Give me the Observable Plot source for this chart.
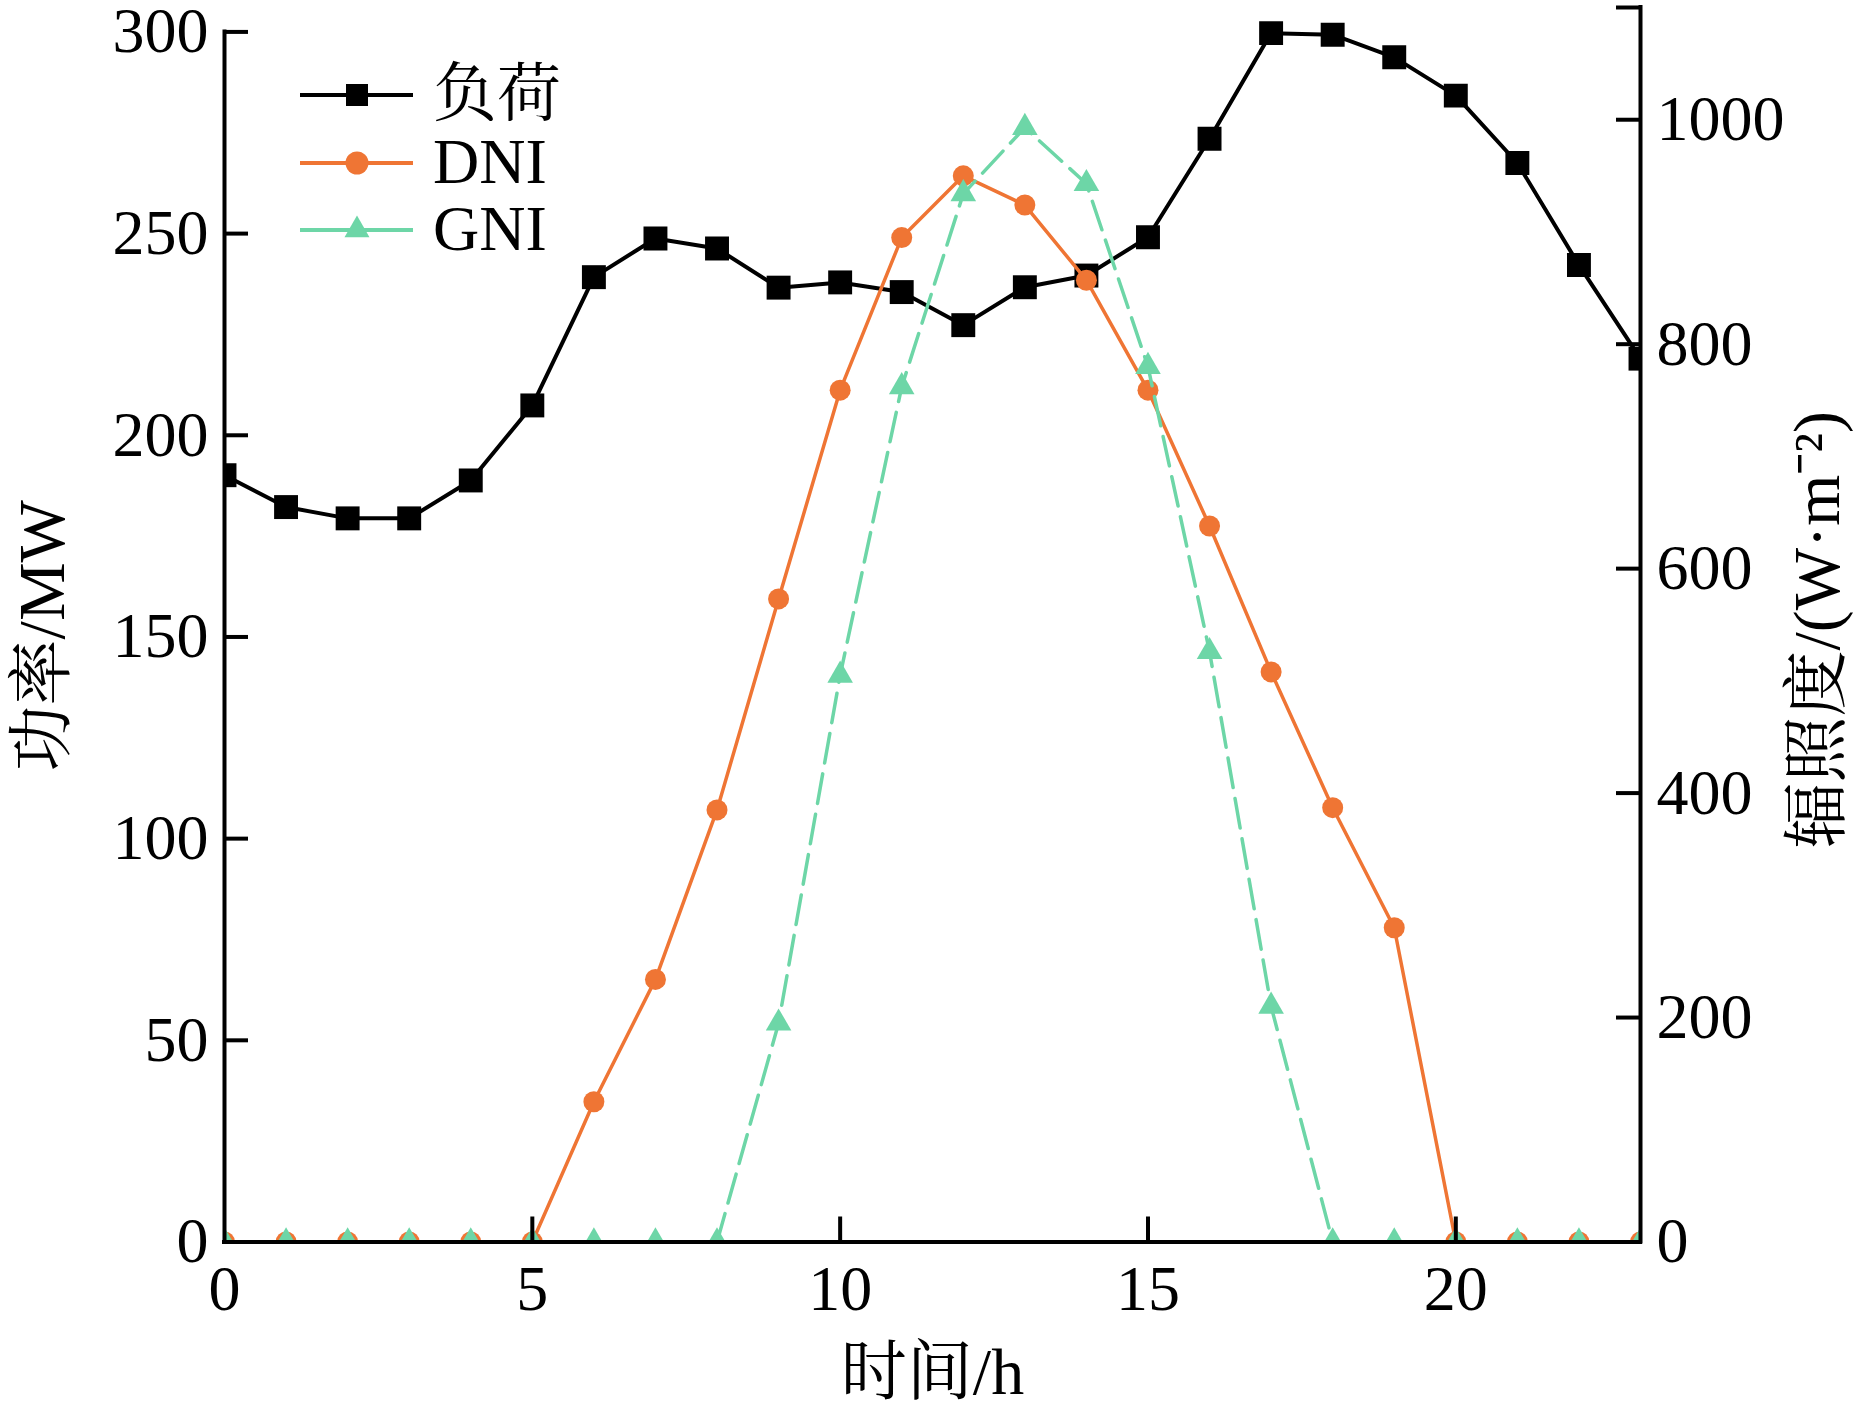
<!DOCTYPE html>
<html>
<head>
<meta charset="utf-8">
<script src="https://cdn.jsdelivr.net/npm/d3@7"></script>
<script src="https://cdn.jsdelivr.net/npm/@observablehq/plot@0.6"></script>
<style>
html, body { margin: 0; padding: 0; background: #fff; }
#wrap { position: relative; width: 1862px; height: 1417px; }
#legend { position: absolute; left: 0; top: 0; pointer-events: none; }
</style>
</head>
<body>
<div id="wrap"></div>
<script>
// ---- data ----
const hours = [0,1,2,3,4,5,6,7,8,9,10,11,12,13,14,15,16,17,18,19,20,21,22,23];
const load = [190.1,182.2,179.4,179.4,188.8,207.4,239.2,248.8,246.3,236.6,237.9,235.5,227.3,236.7,239.6,249.1,273.5,299.7,299.3,293.7,284.2,267.5,242.2,219.0];
const dni  = [0,0,0,0,0,0,125,234,385,573,759,895,950,924,857,759,638,508,387,280,0,0,0,0];
const gni  = [0,0,0,0,0,0,0,0,0,195,505,762,934,993,943,780,526,210,0,0,0,0,0,0];
const seriesNames = ["负荷", "DNI", "GNI"];
const xTicks = [0,5,10,15,20];
const leftTicks = [0,50,100,150,200,250,300];
const rightTicks = [0,200,400,600,800,1000];
const rightAxisMax = 1100;
const xTitle = "时间/h";
const yLeftTitle = "功率/MW";
const yRightTitle = "辐照度/(W·m⁻²)";

// ---- layout & style ----
const W = 1862, H = 1417;
const mL = 224, mR = W - 1640, mT = 7, mB = H - 1241.5;
const plotW = W - mL - mR, plotH = H - mT - mB;
const R = 0.27823; // MW-equivalent of 1 W/m² on the shared vertical
const FONT = '"Liberation Serif", "Times New Roman", "Noto Serif CJK SC", "Noto Sans CJK SC", serif';
const colLoad = "#000000", colDNI = "#ef7534", colGNI = "#6dd6a7";

const loadRows = hours.map((h, i) => ({h, v: load[i]}));
const dniRows = hours.map((h, i) => ({h, v: dni[i] * R}));
const gniRows = hours.map((h, i) => ({h, v: gni[i] * R}));

const chart = Plot.plot({
  width: W, height: H,
  marginLeft: mL, marginRight: mR, marginTop: mT, marginBottom: mB,
  x: {domain: [0, 23]},
  y: {domain: [0, rightAxisMax * R]},
  style: {fontFamily: FONT, fontSize: "64px", color: "#000", background: "#fff", overflow: "visible"},
  marks: [
    Plot.line(loadRows, {x: "h", y: "v", stroke: colLoad, strokeWidth: 4, clip: true}),
    Plot.dot(loadRows, {x: "h", y: "v", symbol: "square", r: 13.5, fill: colLoad, clip: true}),
    Plot.line(dniRows, {x: "h", y: "v", stroke: colDNI, strokeWidth: 3.5, clip: true}),
    Plot.dot(dniRows, {x: "h", y: "v", symbol: "circle", r: 10.5, fill: colDNI, clip: true}),
    Plot.line(gniRows, {x: "h", y: "v", stroke: colGNI, strokeWidth: 3.5, strokeDasharray: "30,11", clip: true}),
    Plot.dot(gniRows, {x: "h", y: "v", symbol: "triangle", r: 9.5, fill: colGNI, clip: true}),
    // axis lines
    Plot.ruleX([0], {y1: 0, y2: 300, stroke: "#000", strokeWidth: 4, strokeLinecap: "square"}),
    Plot.ruleX([23], {y1: 0, y2: rightAxisMax * R, stroke: "#000", strokeWidth: 4, strokeLinecap: "square"}),
    Plot.ruleY([0], {stroke: "#000", strokeWidth: 4, strokeLinecap: "square"}),
    // inward ticks
    Plot.tickY(leftTicks, {y: d => d, insetRight: plotW - 24, stroke: "#000", strokeWidth: 4}),
    Plot.tickY(rightTicks.concat([rightAxisMax]), {y: d => d * R, insetLeft: plotW - 24, stroke: "#000", strokeWidth: 4}),
    Plot.tickX(xTicks.filter(d => d > 0), {x: d => d, insetTop: plotH - 25, stroke: "#000", strokeWidth: 4}),
    // tick labels
    Plot.axisX({ticks: xTicks, tickSize: 0, tickPadding: 23, label: null, tickFormat: d => String(d)}),
    Plot.axisY({anchor: "left", ticks: leftTicks, tickSize: 0, tickPadding: 16, label: null, tickFormat: d => String(d)}),
    Plot.axisY({anchor: "right", ticks: rightTicks.map(t => t * R), tickSize: 0, tickPadding: 16, label: null,
                tickFormat: d => String(Math.round(d / R))}),
    // axis titles
    Plot.text([yLeftTitle], {frameAnchor: "left", textAnchor: "middle", lineAnchor: "middle", dx: -182, dy: 11, rotate: -90, fontSize: 66}),
    Plot.text([yRightTitle], {frameAnchor: "right", textAnchor: "middle", lineAnchor: "middle", dx: 177, dy: 5, rotate: -90, fontSize: 66}),
    Plot.text([xTitle], {frameAnchor: "bottom", textAnchor: "middle", lineAnchor: "middle", dy: 131, fontSize: 66})
  ]
});
document.getElementById("wrap").appendChild(chart);

// ---- legend (inside plot area, top-left) ----
const legendRows = [
  {name: seriesNames[0], color: colLoad, symbol: d3.symbolSquare, size: 22 * 22, y: 95},
  {name: seriesNames[1], color: colDNI, symbol: d3.symbolCircle, size: Math.PI * 11.5 * 11.5, y: 163},
  {name: seriesNames[2], color: colGNI, symbol: d3.symbolTriangle, size: 270, y: 230}
];
const lg = d3.select("#wrap").append("svg")
  .attr("id", "legend").attr("width", 700).attr("height", 300)
  .style("font-family", FONT);
const row = lg.selectAll("g").data(legendRows).join("g")
  .attr("transform", d => `translate(0,${d.y})`);
row.append("line").attr("x1", 300).attr("x2", 413).attr("y1", 0).attr("y2", 0)
  .attr("stroke", d => d.color).attr("stroke-width", 4);
row.append("path").attr("transform", "translate(357,0)")
  .attr("d", d => d3.symbol(d.symbol, d.size)()).attr("fill", d => d.color);
row.append("text").attr("x", 433).attr("y", 20).attr("font-size", 64).attr("fill", "#000")
  .text(d => d.name);
</script>
</body>
</html>
